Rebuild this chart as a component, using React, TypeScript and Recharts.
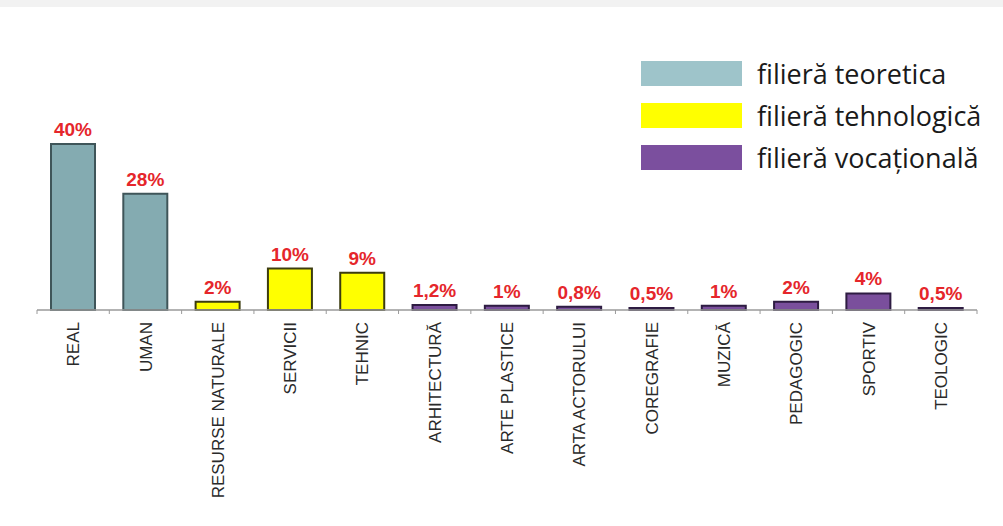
import React from "react";
import { BarChart, Bar, XAxis, YAxis, Cell, LabelList } from "recharts";

const categories = [
  "REAL", "UMAN", "RESURSE NATURALE", "SERVICII", "TEHNIC", "ARHITECTURĂ",
  "ARTE PLASTICE", "ARTA ACTORULUI", "COREGRAFIE", "MUZICĂ", "PEDAGOGIC", "SPORTIV", "TEOLOGIC",
];
const values = [40, 28, 2, 10, 9, 1.2, 1, 0.8, 0.5, 1, 2, 4, 0.5];
const valueLabels = ["40%", "28%", "2%", "10%", "9%", "1,2%", "1%", "0,8%", "0,5%", "1%", "2%", "4%", "0,5%"];
const groups = [0, 0, 1, 1, 1, 2, 2, 2, 2, 2, 2, 2, 2];
const legendLabels = ["filieră teoretica", "filieră tehnologică", "filieră vocațională"];

const barFills = ["#84abb1", "#ffff00", "#7a4f9c"];
const barStrokes = ["#3f5559", "#3c3c10", "#2e1c42"];
const legendFills = ["#9ec4ca", "#ffff00", "#7b4f9e"];

const data = categories.map((name, i) => ({
  name,
  value: values[i],
  label: valueLabels[i],
  group: groups[i],
}));

const W = 1003;
const H = 526;
const M = { top: 144, right: 26, bottom: 0, left: 37 };
const BAND = (W - M.left - M.right) / categories.length;

const Tick = (props: any) => {
  const { x, y, payload, index } = props;
  const axisY = y - 8;
  const half = BAND / 2;
  return (
    <g>
      <line x1={x - half} x2={x - half} y1={axisY} y2={axisY + 4} stroke="#9a9a9a" strokeWidth={1} />
      {index === categories.length - 1 && (
        <line x1={x + half} x2={x + half} y1={axisY} y2={axisY + 4} stroke="#9a9a9a" strokeWidth={1} />
      )}
      <text
        x={x}
        y={y + 4}
        transform={`rotate(-90, ${x}, ${y + 4})`}
        textAnchor="end"
        dy="0.36em"
        fontFamily="'Liberation Sans', Arial, sans-serif"
        fontSize={17}
        fill="#2a2a2a"
      >
        {payload.value}
      </text>
    </g>
  );
};

const LegendBox = () => (
  <div style={{ position: "absolute", left: 641, top: 52, display: "flex", flexDirection: "column" }}>
    {legendLabels.map((l, i) => (
      <div key={l} style={{ display: "flex", alignItems: "center", height: 42 }}>
        <div style={{ width: 101, height: 25, background: legendFills[i] }} />
        <span
          style={{
            marginLeft: 15,
            fontFamily: "'Open Sans', 'Noto Sans', sans-serif",
            fontSize: 27,
            color: "#1a1a1a",
            lineHeight: 1,
            whiteSpace: "nowrap",
          }}
        >
          {l}
        </span>
      </div>
    ))}
  </div>
);

export default function App() {
  return (
    <div style={{ position: "absolute", left: 0, top: 0, width: W, height: H, background: "#ffffff" }}>
      <div style={{ position: "absolute", left: 0, top: 0, width: W, height: 7, background: "#f2f2f2" }} />
      <BarChart width={W} height={H} data={data} margin={M} barSize={44}>
        <YAxis hide domain={[0, 40]} />
        <XAxis
          dataKey="name"
          interval={0}
          height={216}
          tickLine={false}
          axisLine={{ stroke: "#9a9a9a", strokeWidth: 1.5 }}
          tick={<Tick />}
        />
        <Bar dataKey="value" isAnimationActive={false}>
          {data.map((d, i) => (
            <Cell key={i} fill={barFills[d.group]} stroke={barStrokes[d.group]} strokeWidth={2} />
          ))}
          <LabelList
            dataKey="label"
            position="top"
            offset={8}
            fill="#e5262b"
            fontFamily="'Liberation Sans', Arial, sans-serif"
            fontWeight="bold"
            fontSize={19}
          />
        </Bar>
      </BarChart>
      <LegendBox />
    </div>
  );
}
